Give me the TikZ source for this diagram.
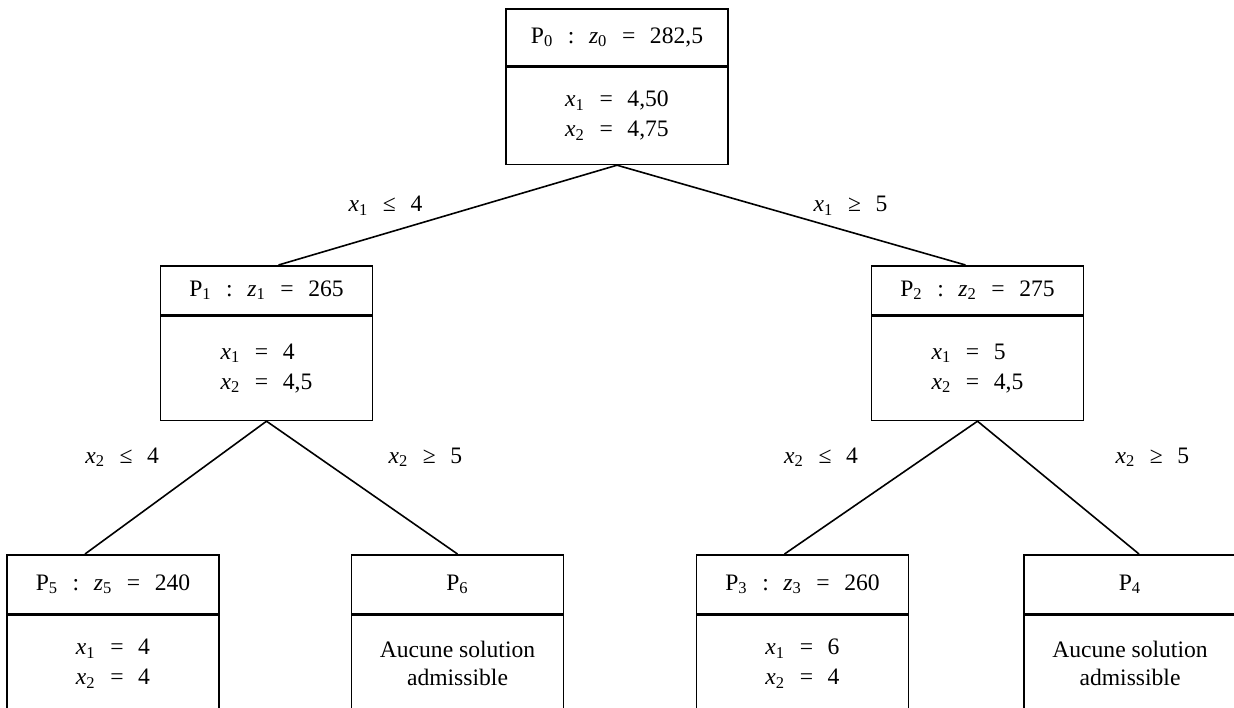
\documentclass[tikz,border=0pt]{standalone}
\usepackage{fontspec}
\setmainfont{Liberation Serif}
\usetikzlibrary{positioning}
\newcommand{\iv}[2]{\textit{#1}\textsubscript{#2}}
\newcommand{\gp}{\hspace{7.3pt}}

\begin{document}
\begin{tikzpicture}[x=0.5pt, y=-0.5pt,
    font=\fontsize{11.8}{15}\selectfont,
    box/.style={draw, line width=0.8pt, minimum width=106pt, inner sep=0pt, anchor=north},
    head/.style={box, minimum height=29.5pt},
    body/.style={box, minimum height=48.5pt, align=left},
    nosol/.style={box, minimum height=48.5pt, align=center, font=\fontsize{11.8}{14}\selectfont},
    link/.style={line width=0.8pt},
    lbl/.style={inner sep=0pt}
  ]
  \useasboundingbox (0,0) rectangle (1234,707);
  \clip (0,0) rectangle (1234,707);

  % racine
  \node[head, minimum width=111pt, minimum height=28.5pt] (h0) at (617,8) {P\textsubscript{0}\gp:\gp\iv{z}{0}\gp=\gp282,5};
  \node[body, minimum width=111pt] (b0) at (h0.south) {\iv{x}{1}\gp=\gp4,50\\\iv{x}{2}\gp=\gp4,75};

  % niveau 1
  \node[head, minimum height=24.5pt] (h1) at (266.5,265) {P\textsubscript{1}\gp:\gp\iv{z}{1}\gp=\gp265};
  \node[body, minimum height=52pt] (b1) at (h1.south) {\iv{x}{1}\gp=\gp4\\\iv{x}{2}\gp=\gp4,5};
  \node[head, minimum height=24.5pt] (h2) at (977.5,265) {P\textsubscript{2}\gp:\gp\iv{z}{2}\gp=\gp275};
  \node[body, minimum height=52pt] (b2) at (h2.south) {\iv{x}{1}\gp=\gp5\\\iv{x}{2}\gp=\gp4,5};

  % niveau 2
  \node[head] (h5) at (113,554) {P\textsubscript{5}\gp:\gp\iv{z}{5}\gp=\gp240};
  \node[body] (b5) at (h5.south) {\iv{x}{1}\gp=\gp4\\\iv{x}{2}\gp=\gp4};
  \node[head] (h6) at (457.5,554) {P\textsubscript{6}};
  \node[nosol] (b6) at (h6.south) {Aucune solution\\admissible};
  \node[head] (h3) at (802.5,554) {P\textsubscript{3}\gp:\gp\iv{z}{3}\gp=\gp260};
  \node[body] (b3) at (h3.south) {\iv{x}{1}\gp=\gp6\\\iv{x}{2}\gp=\gp4};
  \node[head] (h4) at (1130,554) {P\textsubscript{4}};
  \node[nosol] (b4) at (h4.south) {Aucune solution\\admissible};

  % branches
  \draw[link] (b0.south) -- ([xshift=6pt]h1.north)
    node[lbl, pos=0.684, yshift=13.8pt] {\iv{x}{1}\gp≤\gp4};
  \draw[link] (b0.south) -- ([xshift=-6pt]h2.north)
    node[lbl, pos=0.67, yshift=13pt] {\iv{x}{1}\gp≥\gp5};
  \draw[link] (b1.south) -- ([xshift=-14pt]h5.north)
    node[lbl, pos=0.272, xshift=-47.5pt] {\iv{x}{2}\gp≤\gp4};
  \draw[link] (b1.south) -- (h6.north)
    node[lbl, pos=0.272, xshift=53.5pt] {\iv{x}{2}\gp≥\gp5};
  \draw[link] (b2.south) -- ([xshift=-9pt]h3.north)
    node[lbl, pos=0.272, xshift=-52pt] {\iv{x}{2}\gp≤\gp4};
  \draw[link] (b2.south) -- ([xshift=4.5pt]h4.north)
    node[lbl, pos=0.272, xshift=65.5pt] {\iv{x}{2}\gp≥\gp5};
\end{tikzpicture}
\end{document}
